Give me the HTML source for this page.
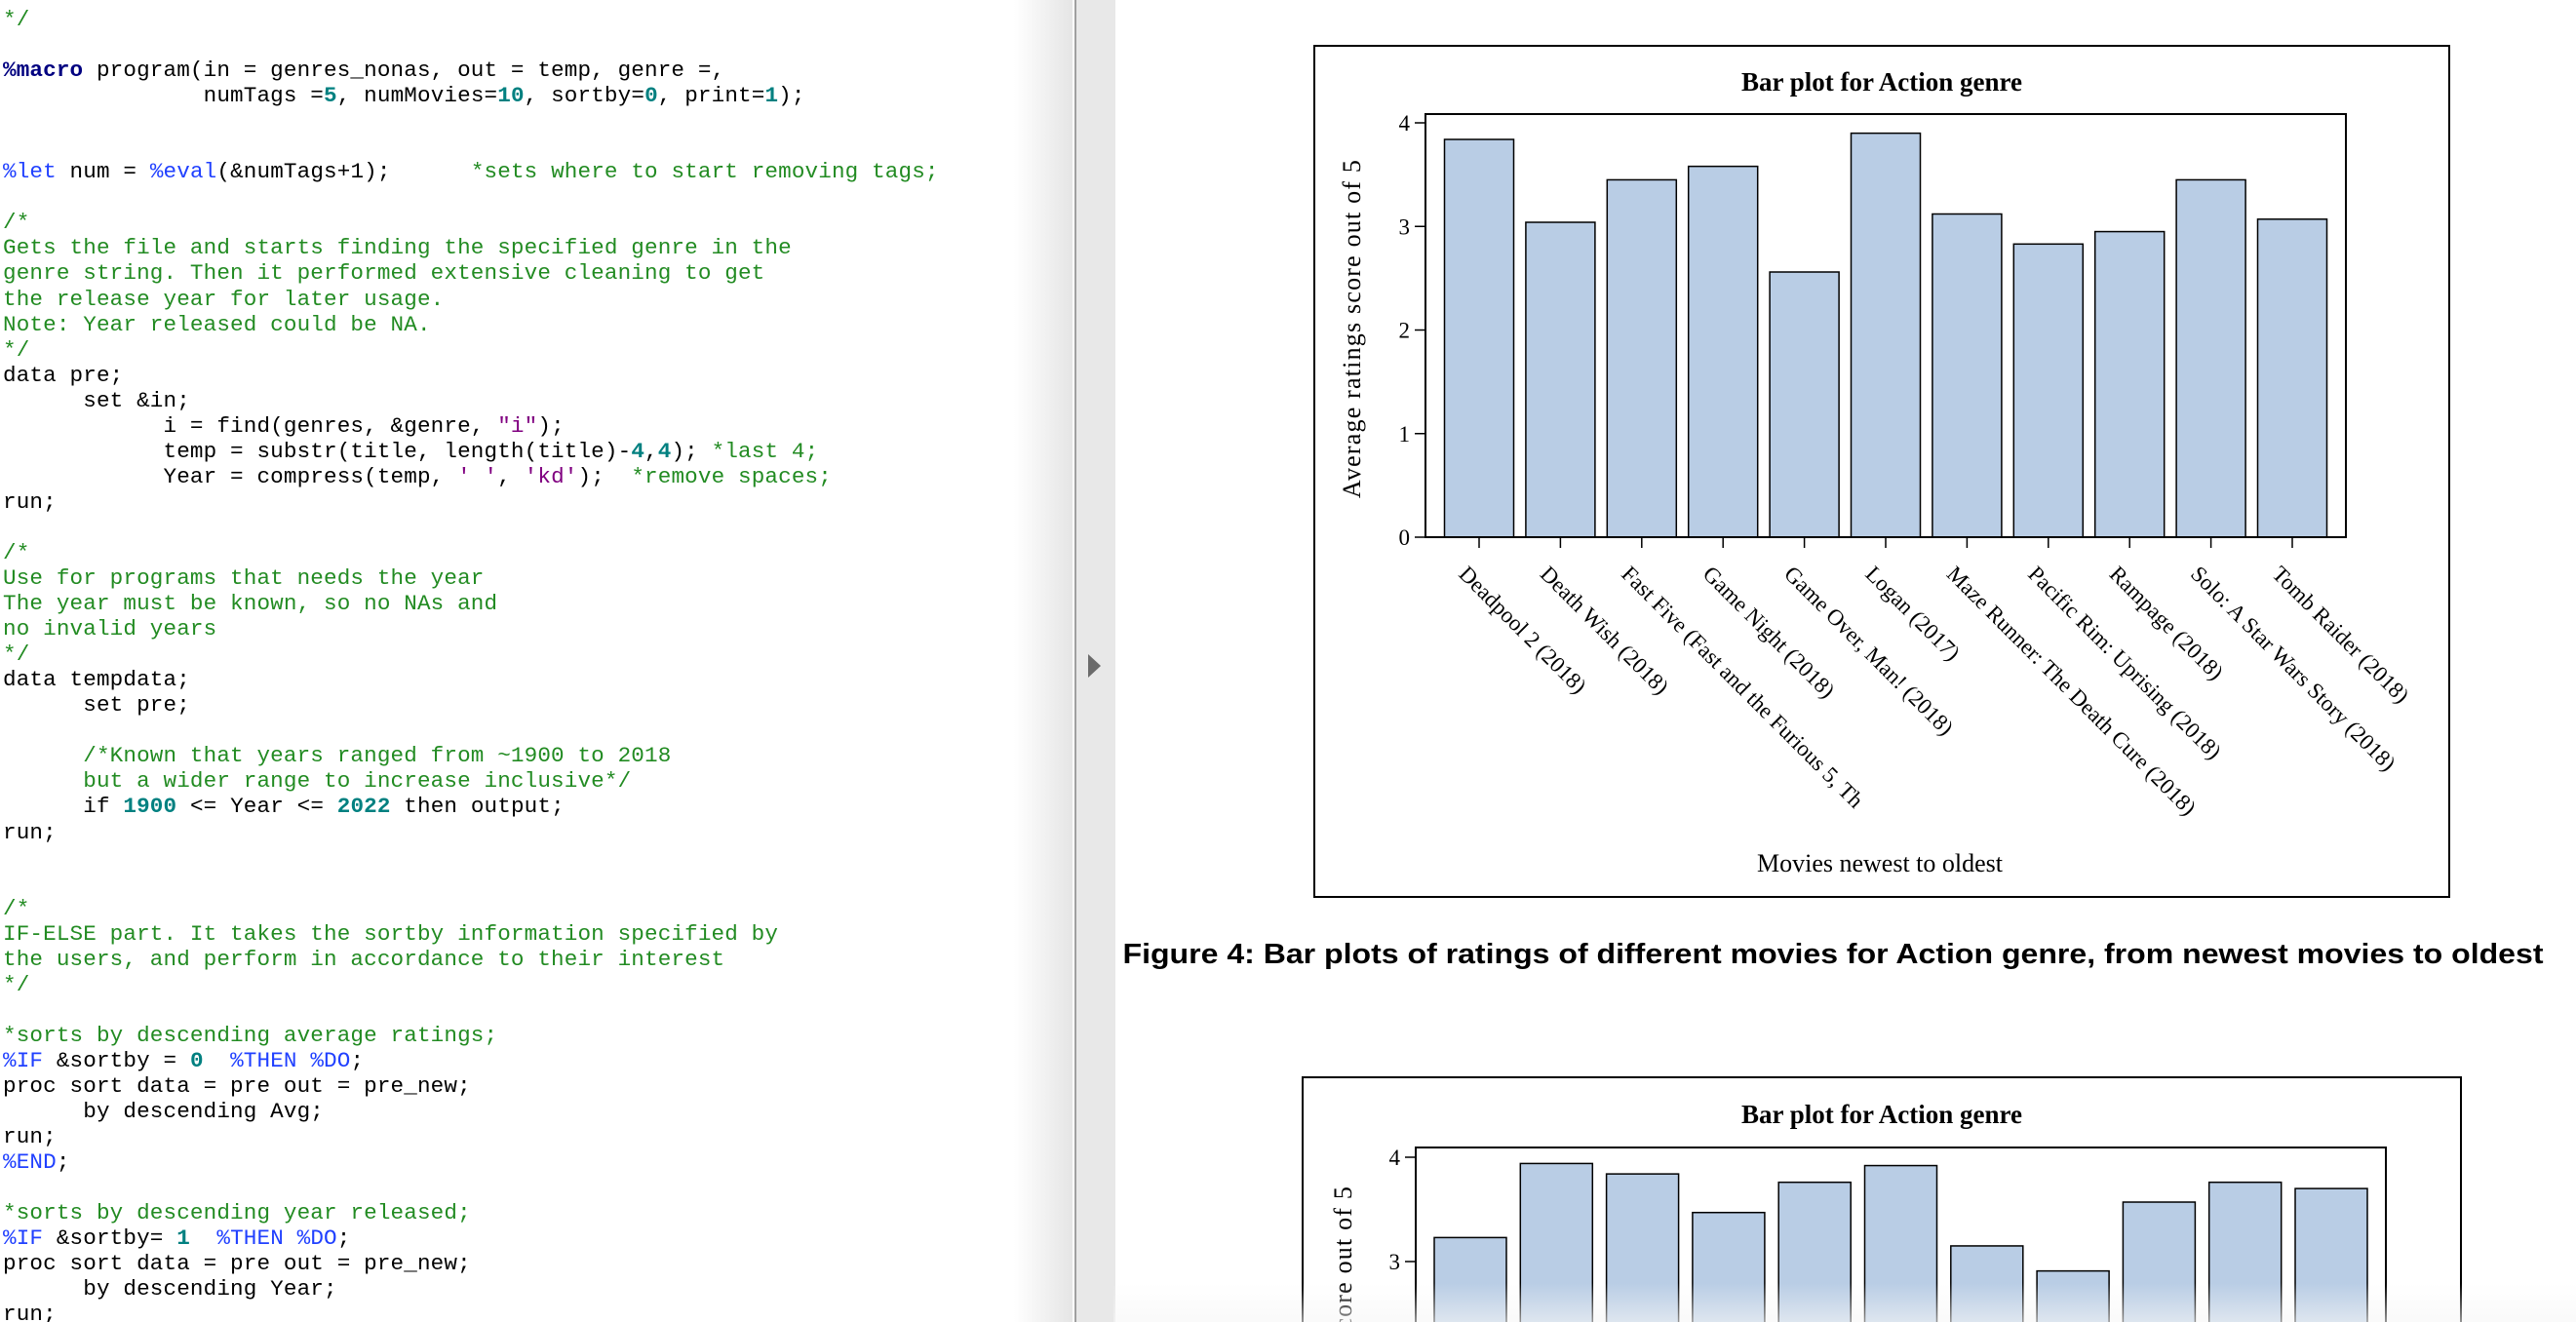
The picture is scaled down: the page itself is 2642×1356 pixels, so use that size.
<!DOCTYPE html>
<html><head><meta charset="utf-8">
<style>
html,body{margin:0;padding:0;width:2642px;height:1356px;overflow:hidden;background:#fff;}
#code{position:absolute;left:0;top:0;width:1100px;height:1356px;overflow:hidden;background:linear-gradient(to right,#fff 0,#fff 1040px,#e4e4e4 1102px);}
#code pre{margin:0;position:absolute;left:3px;top:7px;font-family:"Liberation Mono",monospace;font-size:22.6px;line-height:26.04px;color:#000;letter-spacing:0.15px;}
.c{color:#228b22}.k{color:#000080;font-weight:bold}.m{color:#2040ff}.n{color:#008080;font-weight:bold}.s{color:#800080}
#split{position:absolute;left:1102px;top:0;width:40px;height:1356px;background:#e8e8e8;border-left:2px solid #a0a0a0;}
#tri{position:absolute;left:1116px;top:671px;width:0;height:0;border-top:12px solid transparent;border-bottom:12px solid transparent;border-left:13px solid #6b6b6b;}
#right{position:absolute;left:0;top:0;}
</style></head><body>
<div id="code"><pre><span class="c">*/</span>

<span class="k">%macro</span> program(in = genres_nonas, out = temp, genre =,
               numTags =<span class="n">5</span>, numMovies=<span class="n">10</span>, sortby=<span class="n">0</span>, print=<span class="n">1</span>);


<span class="m">%let</span> num = <span class="m">%eval</span>(&amp;numTags+1);      <span class="c">*sets where to start removing tags;</span>

<span class="c">/*
Gets the file and starts finding the specified genre in the
genre string. Then it performed extensive cleaning to get
the release year for later usage.
Note: Year released could be NA.
*/</span>
data pre;
      set &amp;in;
            i = find(genres, &amp;genre, <span class="s">"i"</span>);
            temp = substr(title, length(title)-<span class="n">4</span>,<span class="n">4</span>); <span class="c">*last 4;</span>
            Year = compress(temp, <span class="s">' '</span>, <span class="s">'kd'</span>);  <span class="c">*remove spaces;</span>
run;

<span class="c">/*
Use for programs that needs the year
The year must be known, so no NAs and
no invalid years
*/</span>
data tempdata;
      set pre;

      <span class="c">/*Known that years ranged from ~1900 to 2018
      but a wider range to increase inclusive*/</span>
      if <span class="n">1900</span> &lt;= Year &lt;= <span class="n">2022</span> then output;
run;


<span class="c">/*
IF-ELSE part. It takes the sortby information specified by
the users, and perform in accordance to their interest
*/</span>

<span class="c">*sorts by descending average ratings;</span>
<span class="m">%IF</span> &amp;sortby = <span class="n">0</span>  <span class="m">%THEN</span> <span class="m">%DO</span>;
proc sort data = pre out = pre_new;
      by descending Avg;
run;
<span class="m">%END</span>;

<span class="c">*sorts by descending year released;</span>
<span class="m">%IF</span> &amp;sortby= <span class="n">1</span>  <span class="m">%THEN</span> <span class="m">%DO</span>;
proc sort data = pre out = pre_new;
      by descending Year;
run;</pre></div>
<div id="split"></div>
<div id="tri"></div>

<svg id="right" width="2642" height="1356" xmlns="http://www.w3.org/2000/svg">
<defs><linearGradient id="fade" x1="0" y1="0" x2="0" y2="1"><stop offset="0" stop-color="#f6f6f6" stop-opacity="0"/><stop offset="1" stop-color="#f6f6f6" stop-opacity="0.6"/></linearGradient></defs>
<g id="chart1"></g>
<text x="1880" y="988" text-anchor="middle" font-family="'Liberation Sans',sans-serif" font-weight="bold" font-size="29" textLength="1457" lengthAdjust="spacingAndGlyphs">Figure 4: Bar plots of ratings of different movies for Action genre, from newest movies to oldest</text>
<g id="chart2"></g>
<rect x="1142" y="1316" width="1500" height="40" fill="url(#fade)"/>
</svg>

<script>
const categories1 = ["Deadpool 2 (2018)","Death Wish (2018)","Fast Five (Fast and the Furious 5, Th","Game Night (2018)","Game Over, Man! (2018)","Logan (2017)","Maze Runner: The Death Cure (2018)","Pacific Rim: Uprising (2018)","Rampage (2018)","Solo: A Star Wars Story (2018)","Tomb Raider (2018)"];
const values1 = [3.84, 3.04, 3.45, 3.58, 2.56, 3.90, 3.12, 2.83, 2.95, 3.45, 3.07];
const values2 = [3.23, 3.94, 3.84, 3.47, 3.76, 3.92, 3.15, 2.91, 3.57, 3.76, 3.70];
const yTicks = [0, 1, 2, 3, 4];
const NS = "http://www.w3.org/2000/svg";
function mk(parent, tag, attrs, text) {
  const e = document.createElementNS(NS, tag);
  for (const k in attrs) e.setAttribute(k, attrs[k]);
  if (text !== undefined) e.textContent = text;
  parent.appendChild(e);
  return e;
}
function drawChart(g, cfg, values, withLabels) {
  const yS = v => cfg.y0 - v * cfg.unit;
  const xC = i => cfg.left + cfg.firstC + i * cfg.pitch;
  let e = mk(g, "rect", {x: cfg.fx, y: cfg.fy, width: cfg.fw, height: cfg.fh, fill: "#fff", stroke: "#000", "stroke-width": 2});
  
  
  e = mk(g, "text", {x: (cfg.fx + cfg.fx + cfg.fw) / 2, y: cfg.titleY, "text-anchor": "middle", "font-family": "'Liberation Serif',serif", "font-weight": "bold", "font-size": 27}, "Bar plot for Action genre");
  
  
  values.forEach((v, i) => {
    const b = mk(g, "rect", {x: xC(i) - cfg.bw / 2, y: yS(v), width: cfg.bw, height: yS(0) - yS(v), fill: "#b9cde5", stroke: "#000", "stroke-width": 1.5});
    
    
  });
  const bottom = Math.min(cfg.y0, 1400);
  e = mk(g, "rect", {x: cfg.left, y: cfg.top, width: cfg.right - cfg.left, height: bottom - cfg.top, fill: "none", stroke: "#000", "stroke-width": 2});
  
  
  yTicks.forEach(t => {
    const y = yS(t);
    if (y > 1356) return;
    const l = mk(g, "line", {x1: cfg.left - 11, x2: cfg.left, y1: y, y2: y, stroke: "#000", "stroke-width": 1.5});
    
    
    const tx = mk(g, "text", {x: cfg.left - 16, y: y + 8, "text-anchor": "end", "font-family": "'Liberation Serif',serif", "font-size": 23}, String(t));
    
    
  });
  e = mk(g, "text", {transform: `translate(${cfg.ytX},${cfg.ytY}) rotate(-90)`, "text-anchor": "middle", "font-family": "'Liberation Serif',serif", "font-size": 26, "letter-spacing": 1.2}, "Average ratings score out of 5");
  
  
  if (withLabels) {
    categories1.forEach((c, i) => {
      const x = xC(i);
      const l = mk(g, "line", {x1: x, x2: x, y1: cfg.y0, y2: cfg.y0 + 11, stroke: "#000", "stroke-width": 1.5});
      
      
      const t = mk(g, "text", {transform: `translate(${x - 22},${cfg.y0 + 39}) rotate(45)`, "font-family": "'Liberation Serif',serif", "font-size": 23}, c);
      
      
    });
    e = mk(g, "text", {x: 1928, y: 894, "text-anchor": "middle", "font-family": "'Liberation Serif',serif", "font-size": 26}, "Movies newest to oldest");
    
    
  }
}
drawChart(document.getElementById("chart1"), {fx: 1348, fy: 47, fw: 1164, fh: 873, titleY: 93, left: 1462, right: 2406, top: 117, y0: 551, unit: 106.25, firstC: 55, pitch: 83.4, bw: 71, ytX: 1395, ytY: 337}, values1, true);
drawChart(document.getElementById("chart2"), {fx: 1336, fy: 1105, fw: 1188, fh: 400, titleY: 1152, left: 1452, right: 2447, top: 1177, y0: 1615, unit: 107, firstC: 56, pitch: 88.3, bw: 74, ytX: 1386, ytY: 1390}, values2, false);
</script>
</body></html>
